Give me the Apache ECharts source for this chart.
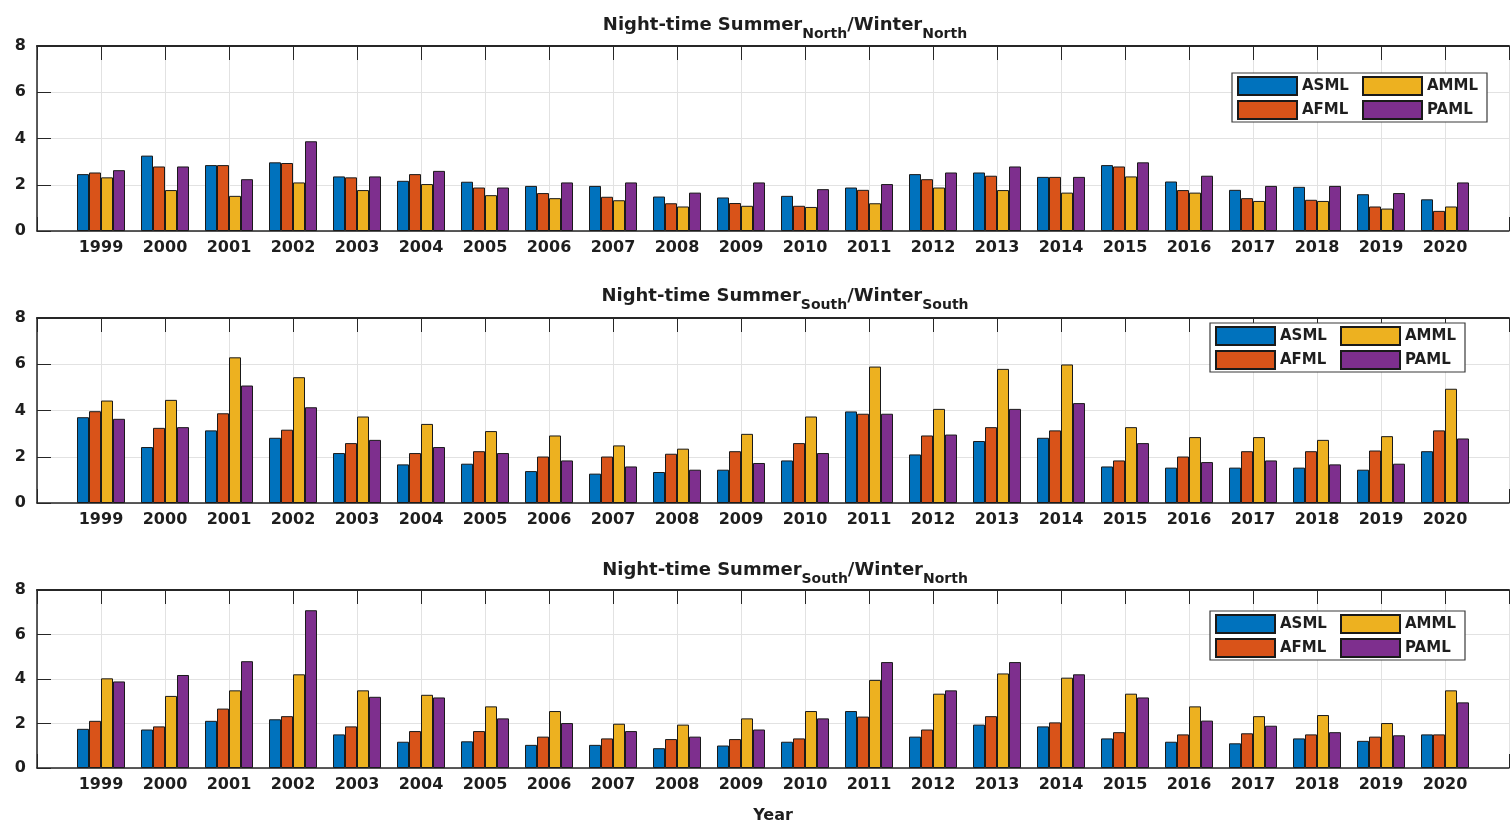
<!DOCTYPE html>
<html>
<head>
<meta charset="utf-8">
<title>Night-time Summer/Winter ratios</title>
<script src="https://cdn.jsdelivr.net/npm/echarts@6/dist/echarts.min.js"></script>
<style>
  html, body { margin: 0; padding: 0; background: #fff; }
  #chart { width: 1512px; height: 825px; }
</style>
</head>
<body>
<div id="chart"></div>
<script>
// Years on the horizontal axis
const years = [1999, 2000, 2001, 2002, 2003, 2004, 2005, 2006, 2007, 2008, 2009,
               2010, 2011, 2012, 2013, 2014, 2015, 2016, 2017, 2018, 2019, 2020];
const seriesNames = ['ASML', 'AFML', 'AMML', 'PAML'];
const seriesColors = ['#0072BD', '#D95319', '#EDB120', '#7E2F8E'];
const yTicks = [0, 2, 4, 6, 8];

// Summer(North) / Winter(North)
const nn_ASML = [2.46, 3.26, 2.85, 2.97, 2.36, 2.17, 2.13, 1.95, 1.95, 1.49, 1.45, 1.52, 1.88, 2.46, 2.53, 2.34, 2.85, 2.14, 1.78, 1.91, 1.59, 1.37];
const nn_AFML = [2.53, 2.79, 2.85, 2.94, 2.32, 2.46, 1.88, 1.64, 1.48, 1.20, 1.21, 1.09, 1.78, 2.24, 2.39, 2.34, 2.79, 1.77, 1.42, 1.35, 1.06, 0.87];
const nn_AMML = [2.32, 1.77, 1.52, 2.10, 1.77, 2.03, 1.55, 1.42, 1.33, 1.06, 1.09, 1.04, 1.20, 1.88, 1.77, 1.66, 2.36, 1.66, 1.30, 1.30, 0.97, 1.06];
const nn_PAML = [2.63, 2.79, 2.24, 3.88, 2.36, 2.60, 1.88, 2.10, 2.10, 1.66, 2.10, 1.81, 2.03, 2.53, 2.79, 2.34, 2.97, 2.39, 1.95, 1.95, 1.64, 2.10];

// Summer(South) / Winter(South)
const ss_ASML = [3.71, 2.42, 3.14, 2.82, 2.16, 1.67, 1.70, 1.38, 1.27, 1.34, 1.44, 1.84, 3.96, 2.10, 2.68, 2.82, 1.58, 1.53, 1.53, 1.53, 1.44, 2.24];
const ss_AFML = [3.97, 3.25, 3.88, 3.17, 2.59, 2.16, 2.24, 2.01, 2.01, 2.13, 2.24, 2.59, 3.86, 2.92, 3.28, 3.14, 1.84, 2.01, 2.24, 2.24, 2.27, 3.14];
const ss_AMML = [4.43, 4.46, 6.30, 5.44, 3.74, 3.42, 3.11, 2.92, 2.49, 2.35, 2.99, 3.74, 5.90, 4.07, 5.80, 5.99, 3.28, 2.85, 2.85, 2.73, 2.89, 4.94];
const ss_PAML = [3.64, 3.28, 5.08, 4.14, 2.73, 2.42, 2.16, 1.84, 1.58, 1.44, 1.73, 2.16, 3.86, 2.96, 4.07, 4.32, 2.59, 1.77, 1.84, 1.67, 1.70, 2.79];

// Summer(South) / Winter(North)
const sn_ASML = [1.76, 1.73, 2.12, 2.19, 1.51, 1.18, 1.20, 1.04, 1.04, 0.89, 1.01, 1.18, 2.56, 1.41, 1.95, 1.87, 1.33, 1.18, 1.11, 1.33, 1.22, 1.51];
const sn_AFML = [2.12, 1.87, 2.67, 2.33, 1.87, 1.66, 1.66, 1.41, 1.33, 1.30, 1.30, 1.33, 2.31, 1.73, 2.33, 2.05, 1.61, 1.51, 1.56, 1.51, 1.41, 1.51];
const sn_AMML = [4.03, 3.24, 3.49, 4.21, 3.49, 3.29, 2.77, 2.56, 1.99, 1.95, 2.23, 2.56, 3.96, 3.34, 4.25, 4.06, 3.34, 2.77, 2.33, 2.38, 2.02, 3.49];
const sn_PAML = [3.89, 4.18, 4.80, 7.09, 3.20, 3.17, 2.23, 2.02, 1.66, 1.41, 1.73, 2.23, 4.76, 3.49, 4.76, 4.21, 3.17, 2.13, 1.90, 1.61, 1.47, 2.95];

const panels = [
  { sub1: 'North', sub2: 'North', values: [nn_ASML, nn_AFML, nn_AMML, nn_PAML] },
  { sub1: 'South', sub2: 'South', values: [ss_ASML, ss_AFML, ss_AMML, ss_PAML] },
  { sub1: 'South', sub2: 'North', values: [sn_ASML, sn_AFML, sn_AMML, sn_PAML] }
];

const FONT = 'DejaVu Sans';
const TEXT = '#1e1e1e';
const AXIS = '#262626';
const GRIDC = '#e2e2e2';

// Layout of the three stacked panels
const gridTops = [46, 318, 590];
const gridH = 185;
const gridLeft = 37;
const gridW = 1487;
const titleTops = [11, 282, 556];
const legendPos = [
  { left: 1232, top: 73 },
  { left: 1210, top: 323 },
  { left: 1210, top: 611 }
];

const grids = [], xAxes = [], yAxes = [], series = [], titles = [], legends = [];

panels.forEach((p, g) => {
  grids.push({ left: gridLeft, top: gridTops[g], width: gridW, height: gridH, containLabel: false });

  titles.push({
    left: 780,
    top: titleTops[g],
    textAlign: 'center',
    text: '{m|Night-time Summer}{s|' + p.sub1 + '}{m|/Winter}{s|' + p.sub2 + '}',
    textStyle: {
      rich: {
        m: { fontFamily: FONT, fontWeight: 'bold', fontSize: 18, color: TEXT, lineHeight: 21, verticalAlign: 'top' },
        s: { fontFamily: FONT, fontWeight: 'bold', fontSize: 14, color: TEXT, lineHeight: 16, verticalAlign: 'top', padding: [11, 0, 0, 0] }
      }
    }
  });

  // bottom axis: year labels, vertical grid lines
  xAxes.push({
    gridIndex: g,
    type: 'value',
    position: 'bottom',
    min: 1998, max: 2021, interval: 1,
    axisLine: { show: true, onZero: false, lineStyle: { color: AXIS, width: 1.5 } },
    axisTick: { show: true, inside: true, length: 14, lineStyle: { color: AXIS } },
    axisLabel: {
      margin: 9,
      fontFamily: FONT, fontWeight: 'bold', fontSize: 16, color: TEXT,
      formatter: v => (v >= years[0] && v <= years[years.length - 1]) ? String(v) : ''
    },
    splitLine: { show: true, lineStyle: { color: GRIDC, width: 1 } },
    name: g === 2 ? 'Year' : '',
    nameLocation: 'middle',
    nameGap: 40,
    nameTextStyle: { fontFamily: FONT, fontWeight: 'bold', fontSize: 16, color: TEXT }
  });
  // top axis: box edge with inward ticks
  xAxes.push({
    gridIndex: g,
    type: 'value',
    position: 'top',
    min: 1998, max: 2021, interval: 1,
    axisLine: { show: true, onZero: false, lineStyle: { color: AXIS, width: 2 } },
    axisTick: { show: true, inside: true, length: 14, lineStyle: { color: AXIS } },
    axisLabel: { show: false },
    splitLine: { show: false }
  });

  yAxes.push({
    gridIndex: g,
    type: 'value',
    min: yTicks[0], max: yTicks[yTicks.length - 1], interval: 2,
    axisLine: { show: true, lineStyle: { color: AXIS, width: 1.5 } },
    axisTick: { show: true, inside: true, length: 14, lineStyle: { color: AXIS } },
    axisLabel: { margin: 11, fontFamily: FONT, fontWeight: 'bold', fontSize: 16, color: TEXT },
    splitLine: { show: true, lineStyle: { color: GRIDC, width: 1 } }
  });

  seriesNames.forEach((name, k) => {
    series.push({
      type: 'bar',
      name: name,
      xAxisIndex: 2 * g,
      yAxisIndex: g,
      barWidth: 12,
      barGap: '0%',
      itemStyle: { color: seriesColors[k], borderColor: '#1a1a1a', borderWidth: 1 },
      emphasis: { disabled: true },
      data: years.map((y, i) => [y, p.values[k][i]])
    });
  });

  // two-column legend: ASML/AFML on the left, AMML/PAML on the right
  legends.push({
    orient: 'vertical',
    left: legendPos[g].left,
    top: legendPos[g].top,
    height: 47,
    itemWidth: 59,
    itemHeight: 18,
    itemGap: 4,
    padding: [3, 4, 2, 5],
    icon: 'rect',
    backgroundColor: '#fff',
    borderColor: '#3a3a3a',
    borderWidth: 1.2,
    borderRadius: 0,
    selectedMode: false,
    data: seriesNames,
    formatter: '{a|{name}}',
    textStyle: {
      rich: {
        a: { width: 56, fontFamily: FONT, fontWeight: 'bold', fontSize: 15, color: TEXT, lineHeight: 18 }
      }
    }
  });
});

const chart = echarts.init(document.getElementById('chart'), null, { renderer: 'canvas' });
chart.setOption({
  backgroundColor: '#fff',
  animation: false,
  title: titles,
  legend: legends,
  grid: grids,
  xAxis: xAxes,
  yAxis: yAxes,
  series: series
});
</script>
</body>
</html>
